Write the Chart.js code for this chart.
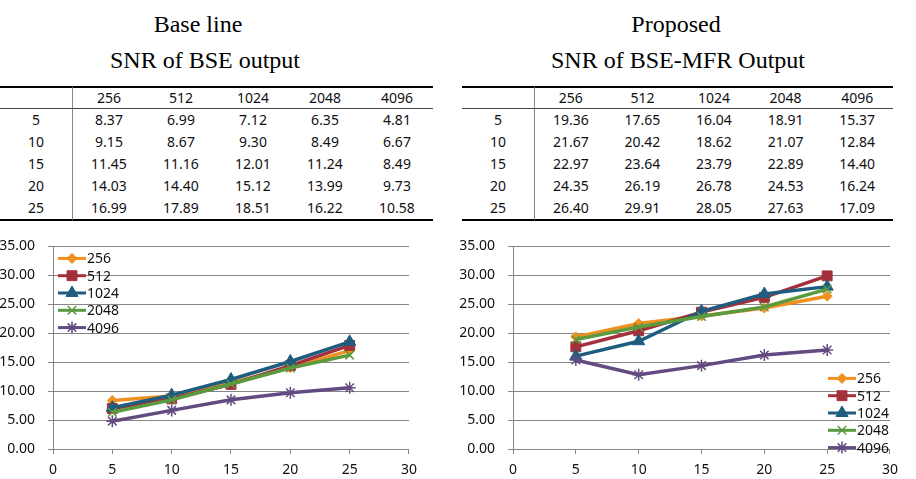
<!DOCTYPE html>
<html>
<head>
<meta charset="utf-8">
<script src="https://cdn.jsdelivr.net/npm/chart.js@4.4.0/dist/chart.umd.min.js"></script>
<style>
  body { margin: 0; width: 916px; height: 479px; background: #fff; position: relative; overflow: hidden; }
  .title { position: absolute; font-family: "Liberation Serif", serif; font-size: 24px; line-height: 24px; white-space: nowrap; transform: translateX(-50%); color: #000; }
  table { position: absolute; top: 86px; border-collapse: separate; border-spacing: 0; table-layout: fixed;
          font-family: "Noto Sans", sans-serif; font-size: 14px; color: #111; }
  td { padding: 0; text-align: center; height: 22px; line-height: 22px; }
  tr.head td { border-top: 2px solid #000; border-bottom: 1px solid #444; height: 20px; line-height: 20px; }
  tr.last td { border-bottom: 2px solid #000; }
  td.lab { border-right: 1px solid #888; }
  .box { position: absolute; top: 225px; height: 254px; }
</style>
</head>
<body>
<div class="title" style="left:198px; top:12px">Base line</div>
<div class="title" style="left:205px; top:48px">SNR of BSE output</div>
<div class="title" style="left:676px; top:12px">Proposed</div>
<div class="title" style="left:678px; top:48px">SNR of BSE-MFR Output</div>

<table id="tblBase" style="left:0px; width:433px"></table>
<table id="tblProp" style="left:462px; width:431px"></table>

<div class="box" style="left:0px; width:425px"><canvas id="baseChart"></canvas></div>
<div class="box" style="left:460px; width:446px"><canvas id="propChart"></canvas></div>

<script>
// data
const snrLevels = [5, 10, 15, 20, 25];
const frameSizes = ["256", "512", "1024", "2048", "4096"];

const base256 = [8.37, 9.15, 11.45, 14.03, 16.99];
const base512 = [6.99, 8.67, 11.16, 14.40, 17.89];
const base1024 = [7.12, 9.30, 12.01, 15.12, 18.51];
const base2048 = [6.35, 8.49, 11.24, 13.99, 16.22];
const base4096 = [4.81, 6.67, 8.49, 9.73, 10.58];

const prop256 = [19.36, 21.67, 22.97, 24.35, 26.40];
const prop512 = [17.65, 20.42, 23.64, 26.19, 29.91];
const prop1024 = [16.04, 18.62, 23.79, 26.78, 28.05];
const prop2048 = [18.91, 21.07, 22.89, 24.53, 27.63];
const prop4096 = [15.37, 12.84, 14.40, 16.24, 17.09];

const xTicks = [0, 5, 10, 15, 20, 25, 30];
const yTicks = [0, 5, 10, 15, 20, 25, 30, 35];

// series look
const colors = ['#F0901F', '#A3303A', '#1F5D80', '#5B9A3F', '#634A80'];
const markers = ['rectRot', 'rect', 'triangle', 'crossRot', 'star'];
const markerSize = [5, 7, 7, 6, 6];

// tables
function fillTable(id, series) {
  const tbl = document.getElementById(id);
  let html = '<tr class="head"><td class="lab" style="width:72px"></td>';
  frameSizes.forEach(f => { html += '<td>' + f + '</td>'; });
  html += '</tr>';
  snrLevels.forEach((s, r) => {
    html += '<tr' + (r === snrLevels.length - 1 ? ' class="last"' : '') + '><td class="lab">' + s + '</td>';
    series.forEach(arr => { html += '<td>' + arr[r].toFixed(2) + '</td>'; });
    html += '</tr>';
  });
  tbl.innerHTML = html;
}
fillTable('tblBase', [base256, base512, base1024, base2048, base4096]);
fillTable('tblProp', [prop256, prop512, prop1024, prop2048, prop4096]);

// legend drawn inside the plot
const cornerLegend = {
  id: 'cornerLegend',
  afterDraw(chart, args, opts) {
    const { ctx, chartArea } = chart;
    const x0 = opts.right ? chartArea.right - opts.dx : chartArea.left + opts.dx;
    chart.data.datasets.forEach((ds, i) => {
      const y = chartArea.top + opts.dy + i * 17.3;
      ctx.save();
      ctx.strokeStyle = ds.borderColor;
      ctx.lineWidth = 3;
      ctx.beginPath();
      ctx.moveTo(x0, y);
      ctx.lineTo(x0 + 28, y);
      ctx.stroke();
      ctx.fillStyle = ds.pointBackgroundColor;
      ctx.strokeStyle = ds.pointBorderColor;
      ctx.lineWidth = ds.pointBorderWidth;
      Chart.helpers.drawPoint(ctx, { pointStyle: ds.pointStyle, radius: ds.pointRadius, rotation: 0, borderWidth: ds.pointBorderWidth }, x0 + 14, y);
      ctx.fillStyle = '#111';
      ctx.font = '14px "Noto Sans", sans-serif';
      ctx.textBaseline = 'middle';
      ctx.fillText(ds.label, x0 + 29, y + 1);
      ctx.restore();
    });
  }
};

function makeSets(series) {
  return series.map((arr, i) => ({
    label: frameSizes[i],
    data: snrLevels.map((s, k) => ({ x: s, y: arr[k] })),
    borderColor: colors[i],
    backgroundColor: colors[i],
    borderWidth: 3.5,
    tension: 0,
    pointStyle: markers[i],
    pointRadius: markerSize[i],
    pointBackgroundColor: colors[i],
    pointBorderColor: colors[i],
    pointBorderWidth: (markers[i] === 'crossRot' || markers[i] === 'star') ? 1.5 : 1,
    order: series.length - i
  }));
}

function makeChart(id, series, legendOpts, padRight) {
  new Chart(document.getElementById(id), {
    type: 'line',
    data: { datasets: makeSets(series) },
    options: {
      responsive: true,
      maintainAspectRatio: false,
      animation: false,
      layout: { padding: { top: 10, right: padRight, left: 0, bottom: 0 } },
      plugins: {
        legend: { display: false },
        tooltip: { enabled: false },
        cornerLegend: legendOpts
      },
      scales: {
        x: {
          type: 'linear',
          min: 0, max: 30,
          afterBuildTicks: s => { s.ticks = xTicks.map(v => ({ value: v })); },
          afterFit: s => { s.height = 30; },
          grid: { drawOnChartArea: false, drawTicks: true, tickLength: 5, color: '#868686' },
          border: { color: '#868686', width: 1 },
          ticks: { color: '#111', padding: 8, font: { family: 'Noto Sans', size: 14 }, maxRotation: 0 }
        },
        y: {
          min: 0, max: 35,
          afterBuildTicks: s => { s.ticks = yTicks.map(v => ({ value: v })); },
          afterFit: s => { s.width = 53; },
          grid: { color: '#868686', tickLength: 5 },
          border: { color: '#868686', width: 1 },
          ticks: { color: '#111', padding: 13, font: { family: 'Noto Sans', size: 14 }, callback: v => v.toFixed(2) }
        }
      }
    },
    plugins: [cornerLegend]
  });
}

makeChart('baseChart', [base256, base512, base1024, base2048, base4096], { right: false, dx: 5, dy: 12 }, 12);
makeChart('propChart', [prop256, prop512, prop1024, prop2048, prop4096], { right: true, dx: 62, dy: 132 }, 11);
</script>
</body>
</html>
